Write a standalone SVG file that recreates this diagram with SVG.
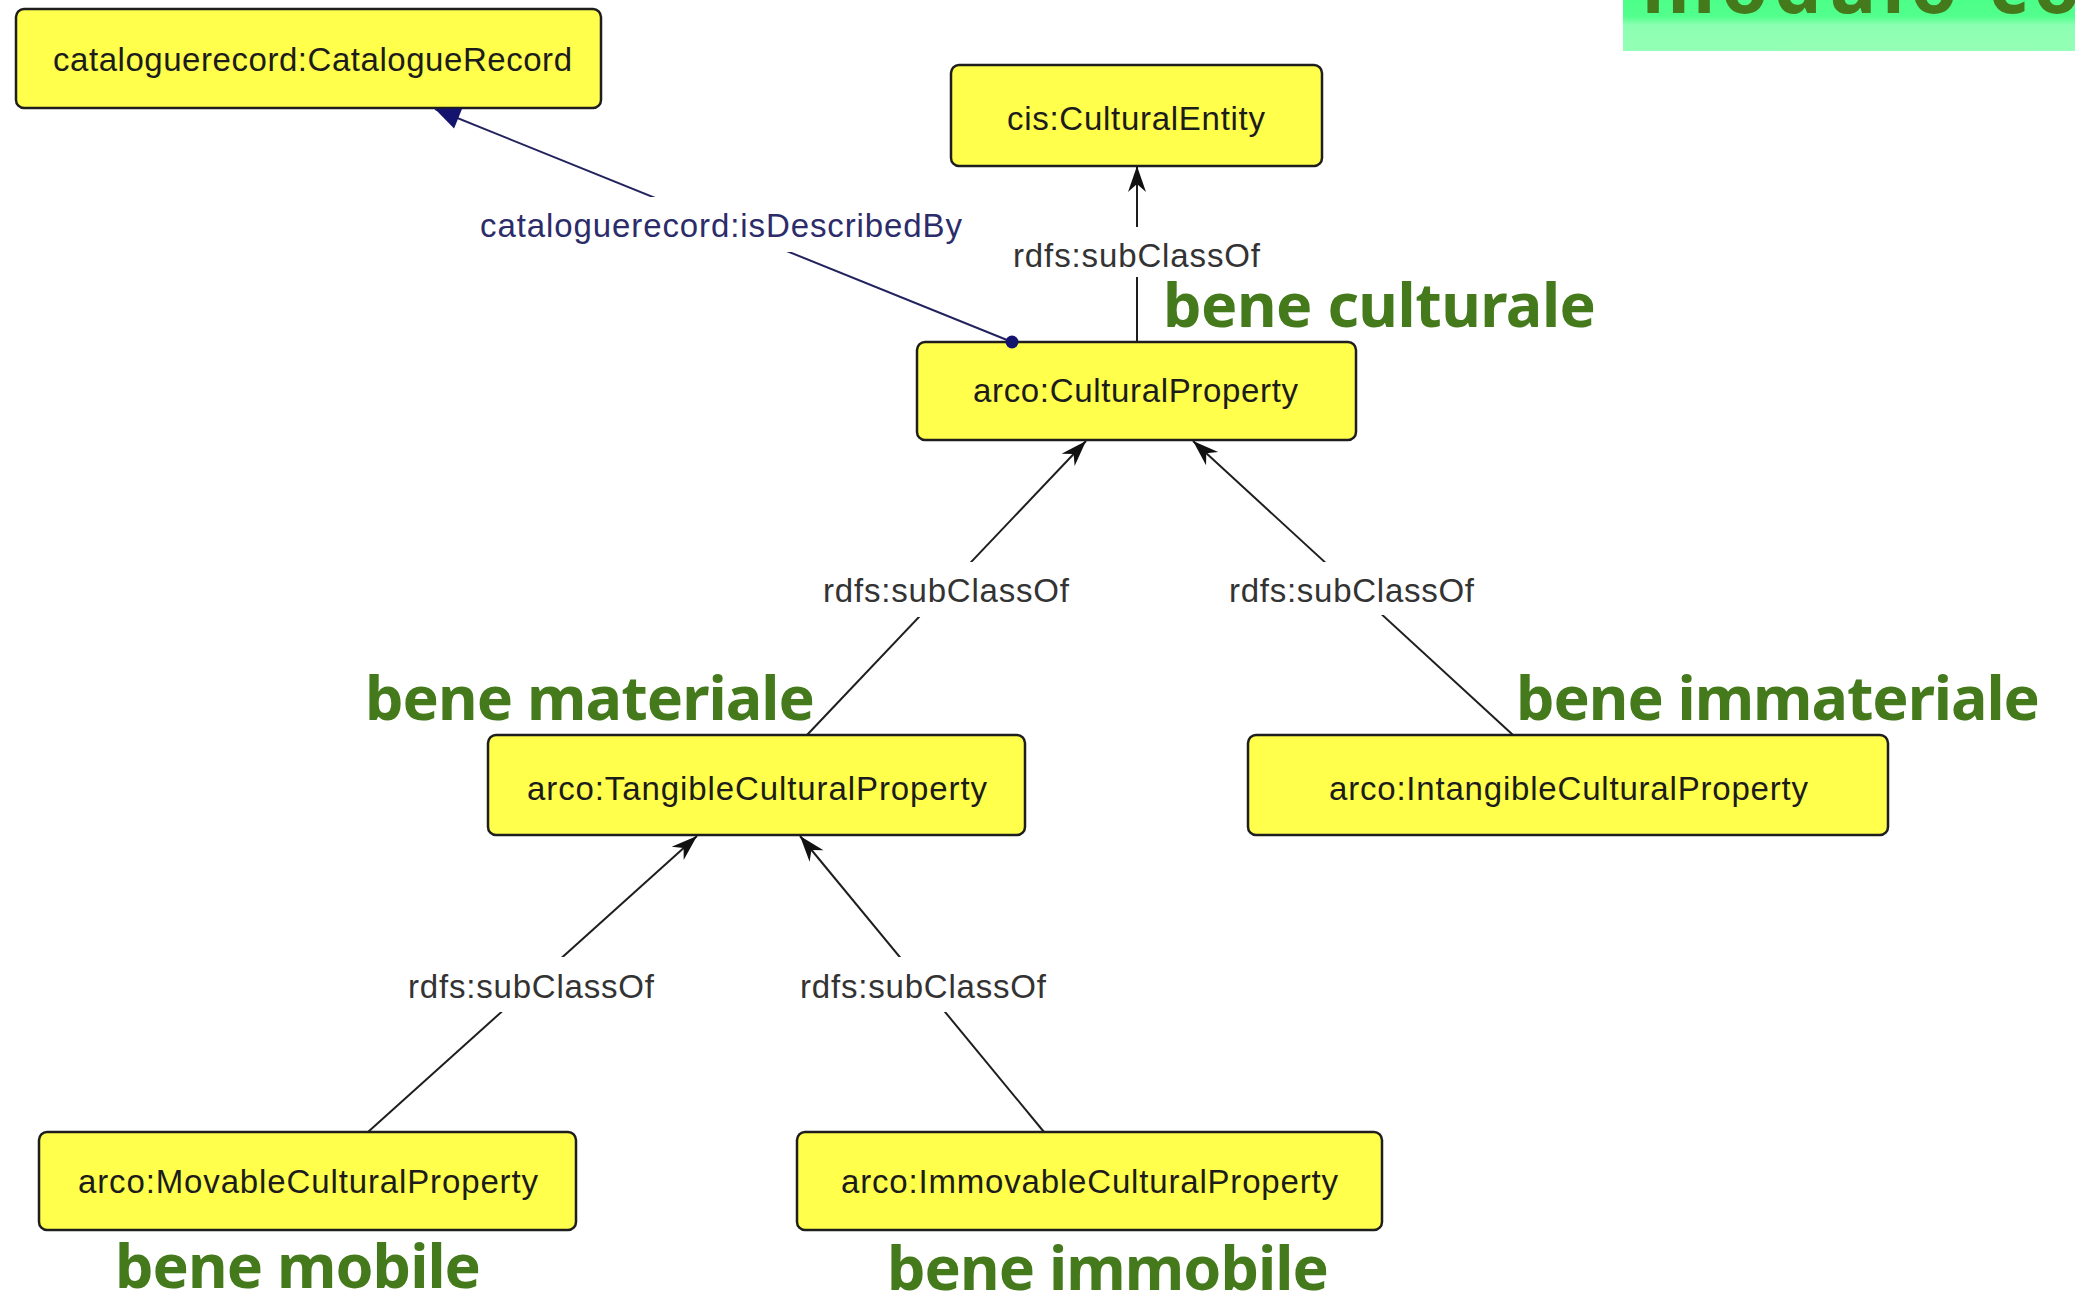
<svg xmlns="http://www.w3.org/2000/svg" width="2075" height="1305" viewBox="0 0 2075 1305">
<style>
.node rect{fill:#ffff4c;stroke:#1e1e1e;stroke-width:2.5}
.node text{font-family:"Liberation Sans",Arial,sans-serif;font-size:33px;fill:#1c1c1c}
.edge line{stroke:#1e1e1e;stroke-width:2}
.lbl{font-family:"Liberation Sans",Arial,sans-serif;font-size:33px;fill:#333333}
.lblbg{fill:#ffffff}
.note{font-family:"Noto Sans","Open Sans","DejaVu Sans",sans-serif;font-weight:bold;font-size:61px;fill:#447a1c}
</style>
<defs>
<marker id="arr" markerUnits="userSpaceOnUse" markerWidth="30" markerHeight="24" viewBox="-28 -12 30 24" refX="0" refY="0" orient="auto">
<path d="M0,0 L-26,-9 L-18,0 L-26,9 Z" fill="#111111"/>
</marker>
<marker id="tri" markerUnits="userSpaceOnUse" markerWidth="30" markerHeight="26" viewBox="-28 -13 30 26" refX="0" refY="0" orient="auto">
<path d="M0,0 L-25,-11 L-25,11 Z" fill="#14146e"/>
</marker>
<linearGradient id="tg" x1="0" y1="0" x2="0" y2="1">
<stop offset="0" stop-color="#4cff88"/>
<stop offset="0.32" stop-color="#52ff8c"/>
<stop offset="0.5" stop-color="#8cffb2"/>
<stop offset="1" stop-color="#94ffb6"/>
</linearGradient>
</defs>
<rect width="2075" height="1305" fill="#ffffff"/>

<g id="title">
<rect x="1623" y="0" width="452" height="51" fill="url(#tg)"/>
<text x="1642" y="13" font-family="Noto Sans, Open Sans, sans-serif" font-weight="bold" font-size="75" letter-spacing="6" fill="#447a1c">modulo co</text>
</g>

<g id="n-cataloguerecord" class="node">
<rect x="16" y="9" width="585" height="99" rx="8"/>
<text x="53" y="71" textLength="519" lengthAdjust="spacing">cataloguerecord:CatalogueRecord</text>
</g>
<g id="n-culturalentity" class="node">
<rect x="951" y="65" width="371" height="101" rx="8"/>
<text x="1007" y="130" textLength="258" lengthAdjust="spacing">cis:CulturalEntity</text>
</g>
<g id="n-culturalproperty" class="node">
<rect x="917" y="342" width="439" height="98" rx="8"/>
<text x="973" y="402" textLength="325" lengthAdjust="spacing">arco:CulturalProperty</text>
</g>
<g id="n-tangible" class="node">
<rect x="488" y="735" width="537" height="100" rx="8"/>
<text x="527" y="800" textLength="460" lengthAdjust="spacing">arco:TangibleCulturalProperty</text>
</g>
<g id="n-intangible" class="node">
<rect x="1248" y="735" width="640" height="100" rx="8"/>
<text x="1329" y="800" textLength="479" lengthAdjust="spacing">arco:IntangibleCulturalProperty</text>
</g>
<g id="n-movable" class="node">
<rect x="39" y="1132" width="537" height="98" rx="8"/>
<text x="78" y="1193" textLength="460" lengthAdjust="spacing">arco:MovableCulturalProperty</text>
</g>
<g id="n-immovable" class="node">
<rect x="797" y="1132" width="585" height="98" rx="8"/>
<text x="841" y="1193" textLength="497" lengthAdjust="spacing">arco:ImmovableCulturalProperty</text>
</g>

<g id="connectors">
<g class="edge" id="e-describedby">
<line x1="1012" y1="342" x2="435" y2="109" style="stroke:#22225e" marker-end="url(#tri)"/>
<circle cx="1012" cy="342" r="6.5" fill="#14146e"/>
<rect class="lblbg" x="475" y="197" width="492" height="55"/>
<text x="480" y="237" class="lbl" style="fill:#2c2c6a" textLength="482" lengthAdjust="spacing">cataloguerecord:isDescribedBy</text>
</g>
<g class="edge" id="e-cp-ce">
<line x1="1137" y1="341" x2="1137" y2="166" marker-end="url(#arr)"/>
<rect class="lblbg" x="1008" y="227" width="257" height="50"/>
<text x="1013" y="267" class="lbl" textLength="247" lengthAdjust="spacing">rdfs:subClassOf</text>
</g>
<g class="edge" id="e-tcp-cp">
<line x1="807" y1="735" x2="1086" y2="441" marker-end="url(#arr)"/>
<rect class="lblbg" x="818" y="562" width="256" height="55"/>
<text x="823" y="602" class="lbl" textLength="246" lengthAdjust="spacing">rdfs:subClassOf</text>
</g>
<g class="edge" id="e-icp-cp">
<line x1="1513" y1="735" x2="1193" y2="441" marker-end="url(#arr)"/>
<rect class="lblbg" x="1224" y="562" width="255" height="53"/>
<text x="1229" y="602" class="lbl" textLength="245" lengthAdjust="spacing">rdfs:subClassOf</text>
</g>
<g class="edge" id="e-mcp-tcp">
<line x1="368" y1="1132" x2="697" y2="836" marker-end="url(#arr)"/>
<rect class="lblbg" x="403" y="957" width="256" height="55"/>
<text x="408" y="998" class="lbl" textLength="246" lengthAdjust="spacing">rdfs:subClassOf</text>
</g>
<g class="edge" id="e-imcp-tcp">
<line x1="1044" y1="1132" x2="800" y2="836" marker-end="url(#arr)"/>
<rect class="lblbg" x="795" y="957" width="256" height="55"/>
<text x="800" y="998" class="lbl" textLength="246" lengthAdjust="spacing">rdfs:subClassOf</text>
</g>
</g>

<g id="annotations">
<text class="note" x="1163" y="327" textLength="433" lengthAdjust="spacing">bene culturale</text>
<text class="note" x="365" y="720" textLength="450" lengthAdjust="spacing">bene materiale</text>
<text class="note" x="1516" y="720" textLength="524" lengthAdjust="spacing">bene immateriale</text>
<text class="note" x="115" y="1288" textLength="366" lengthAdjust="spacing">bene mobile</text>
<text class="note" x="887" y="1290" textLength="442" lengthAdjust="spacing">bene immobile</text>
</g>
</svg>
